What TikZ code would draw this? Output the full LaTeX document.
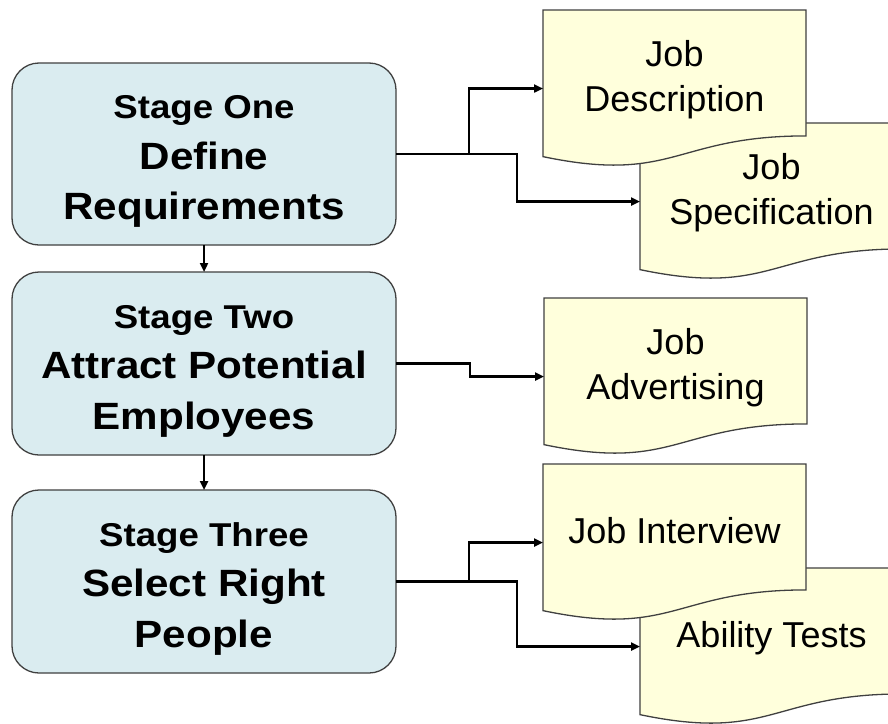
\documentclass[tikz,border=0pt]{standalone}
\usepackage{fontspec}
\setmainfont{Liberation Sans}
\newfontfamily\stagefont{Liberation Sans}[FakeStretch=1.11]
\usetikzlibrary{arrows.meta,calc}
\pgfdeclarelayer{canvas}
\pgfdeclarelayer{background}
\pgfsetlayers{canvas,background,main}

\definecolor{stagefill}{HTML}{DAECF0}
\definecolor{paperfill}{HTML}{FFFFDC}
\definecolor{edgegrey}{HTML}{404040}

% three centred lines of a stage box: a small heading and two large lines
\newcommand\stagelines[3]{\raisebox{-11.2pt}[0pt][0pt]{%
  \begin{tabular}{@{}c@{}}{\fontsize{33}{50.5}\selectfont #1}\\#2\\#3\end{tabular}}}
% centred lines written on a document sheet
\newcommand\paperlines[1]{\raisebox{2pt}[0pt][0pt]{%
  \begin{tabular}{@{}c@{}}#1\end{tabular}}}
% sheet outline with a wavy lower edge, laid behind the node #1
\newcommand\paperbehind[1]{%
  \begin{pgfonlayer}{background}
    \filldraw[paper] (#1.north west) -- (#1.north east)
      -- ($(#1.north east)!0.802!(#1.south east)$)
      .. controls ($(#1.north)!0.802!(#1.south)$) and ($(#1.north)!1.109!(#1.south)$)
      .. ($(#1.north west)!0.934!(#1.south west)$) -- cycle;
  \end{pgfonlayer}}

\tikzset{
  stagebox/.style={draw=edgegrey, line width=1.3pt, fill=stagefill,
    rounded corners=27pt, minimum width=384pt, inner sep=0pt, outer sep=0pt,
    font=\stagefont\bfseries\fontsize{38}{50.5}\selectfont},
  docnode/.style={minimum width=263pt, minimum height=157pt, inner sep=0pt,
    outer sep=0pt, font=\fontsize{36}{45}\selectfont},
  paper/.style={draw=edgegrey, line width=1.3pt, fill=paperfill},
  link/.style={line width=2.8pt, -{Triangle[length=9pt,width=8pt]}},
  downlink/.style={line width=2.6pt, -{Triangle[length=9pt,width=8pt]}},
}

\begin{document}
\begin{tikzpicture}[x=1pt, y=-1pt]
  \begin{pgfonlayer}{canvas}
    \fill[white] (0,0) rectangle (888,723);
  \end{pgfonlayer}
  \useasboundingbox (0,0) rectangle (888,723);

  % stages
  \node[stagebox, minimum height=182pt] (s1) at (204,154)
    {\stagelines{Stage One}{Define}{Requirements}};
  \node[stagebox, minimum height=183pt] (s2) at (204,363.5)
    {\stagelines{Stage Two}{Attract Potential}{Employees}};
  \node[stagebox, minimum height=183pt] (s3) at (204,581.5)
    {\stagelines{Stage Three}{Select Right}{People}};

  % documents
  \node[docnode] (js) at (771.5,201.5) {\paperlines{Job\\Specification}};
  \node[docnode] (jd) at (674.5,88.5)  {\paperlines{Job\\Description}};
  \node[docnode] (ja) at (675.5,376.5) {\paperlines{Job\\Advertising}};
  \node[docnode] (at) at (771.5,646.5) {\paperlines{Ability Tests}};
  \node[docnode] (ji) at (674.5,542.5) {\paperlines{Job Interview}};

  \paperbehind{js}
  \paperbehind{jd}
  \paperbehind{ja}
  \paperbehind{at}
  \paperbehind{ji}

  % flow between stages
  \draw[downlink] (s1.south) -- (s2.north);
  \draw[downlink] (s2.south) -- (s3.north);

  % stage outputs
  \draw[link] (s1.east) -- ++(73,0) |- (jd.west);
  \draw[link] (s1.east) -- ++(121,0) |- (js.west);
  \draw[link] (s2.east) -- ++(74,0) |- (ja.west);
  \draw[link] (s3.east) -- ++(73,0) |- (ji.west);
  \draw[link] (s3.east) -- ++(121,0) |- (at.west);
\end{tikzpicture}
\end{document}
